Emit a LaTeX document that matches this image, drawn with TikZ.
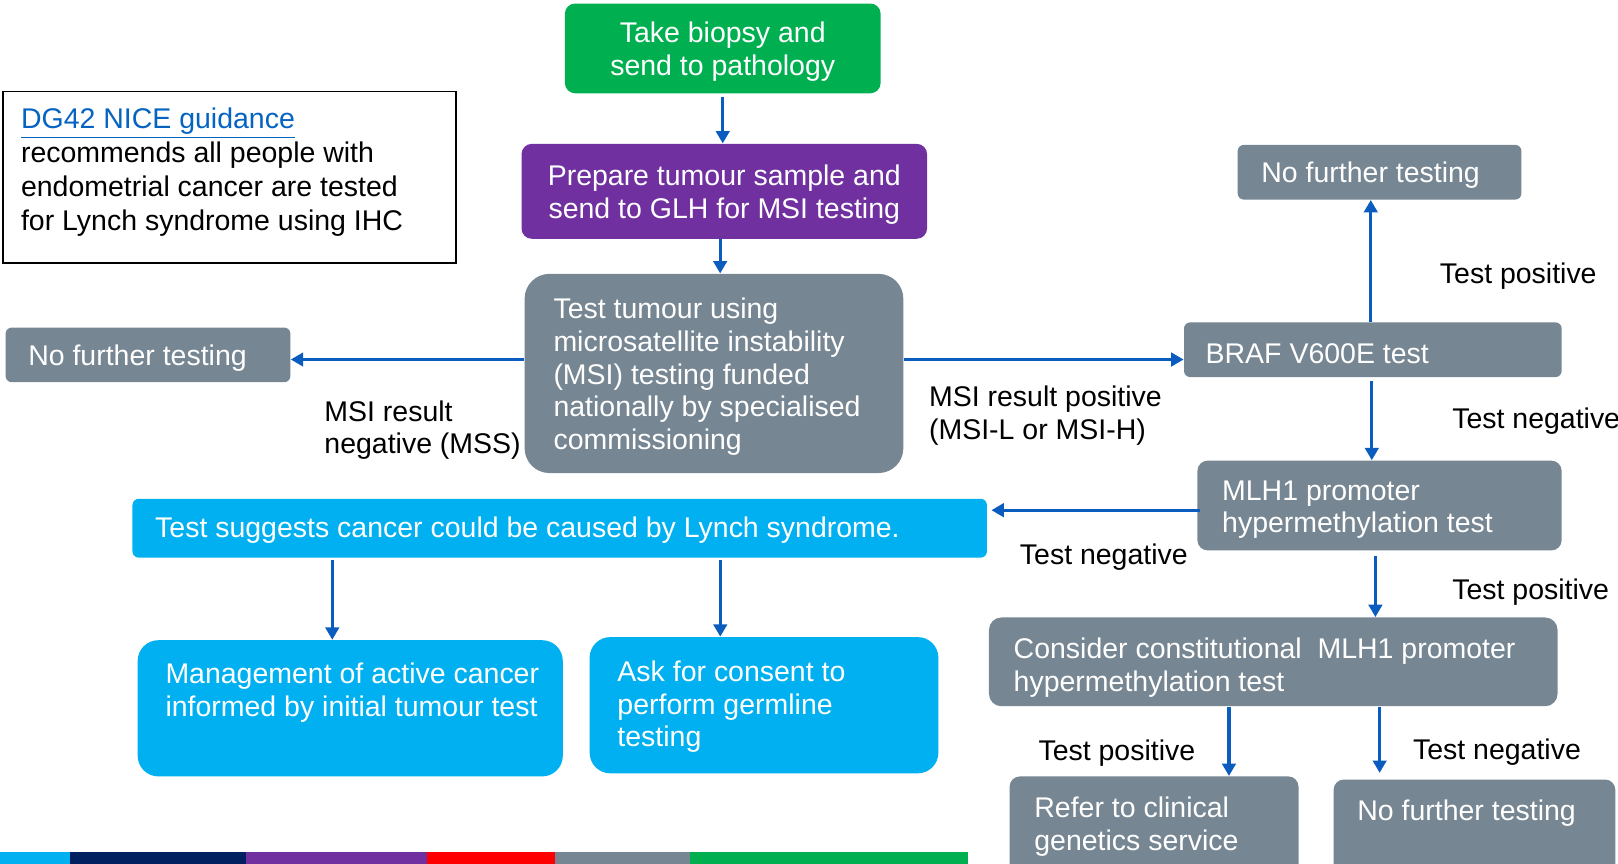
\documentclass[tikz,border=0pt]{standalone}
\usepackage{fontspec}
\setmainfont{Liberation Sans}
\usetikzlibrary{arrows.meta,calc}
\definecolor{cgreen}{HTML}{00B050}
\definecolor{cpurple}{HTML}{7030A0}
\definecolor{cgray}{HTML}{768692}
\definecolor{ccyan}{HTML}{00B0F0}
\definecolor{cnavy}{HTML}{002060}
\definecolor{cred}{HTML}{FF0000}
\definecolor{carrow}{HTML}{0A5CBE}
\definecolor{clink}{HTML}{0563C1}
\begin{document}
\begin{tikzpicture}[x=0.5pt,y=-0.5pt,
  txt/.style={font=\fontsize{13.8pt}{15.8pt}\selectfont, inner sep=0pt, align=left, yshift=-1.5pt},
  wtxt/.style={txt, text=white},
  panel/.style={inner sep=0pt, anchor=north west, draw=none},
  graybox/.style={panel, fill=cgray},
  cyanbox/.style={panel, fill=ccyan},
  arr/.style={draw=carrow, line width=1.5pt, -{Triangle[length=6pt,width=6.5pt]}},
]
\clip (0,0) rectangle (1568,837);
\useasboundingbox (0,0) rectangle (1568,837);

% boxes
\node[panel, fill=cgreen, rounded corners=5pt, minimum width=153pt, minimum height=43.5pt] (green) at (547,3) {};
\node[panel, fill=cpurple, rounded corners=5pt, minimum width=196.5pt, minimum height=46pt] (purple) at (505,139) {};
\node[graybox, rounded corners=12pt, minimum width=183.5pt, minimum height=96.5pt] (main) at (508,265) {};
\node[graybox, rounded corners=3pt, minimum width=138pt, minimum height=26.5pt] (nftL) at (5,317) {};
\node[panel, draw=black, line width=0.8pt, fill=white, minimum width=219.5pt, minimum height=83pt] (note) at (2,88) {};
\node[graybox, rounded corners=3pt, minimum width=137.5pt, minimum height=26.5pt] (nftT) at (1199,140) {};
\node[graybox, rounded corners=3pt, minimum width=183pt, minimum height=26.5pt] (braf) at (1147,312) {};
\node[graybox, rounded corners=5pt, minimum width=176.5pt, minimum height=43.5pt] (mlh) at (1160,446) {};
\node[cyanbox, rounded corners=3pt, minimum width=414pt, minimum height=28.5pt] (lynch) at (128,483) {};
\node[cyanbox, rounded corners=10pt, minimum width=206pt, minimum height=66pt] (mgmt) at (133,620) {};
\node[cyanbox, rounded corners=10pt, minimum width=169pt, minimum height=66pt] (ask) at (571,617) {};
\node[graybox, rounded corners=6pt, minimum width=275.5pt, minimum height=43pt] (consider) at (958,598) {};
\node[graybox, rounded corners=5pt, minimum width=140pt, minimum height=59pt] (refer) at (978,752) {};
\node[graybox, rounded corners=5pt, minimum width=136.5pt, minimum height=57.5pt] (nftB) at (1292,755) {};

% box texts
\node[wtxt, align=center] (green-t) at (green.center) {Take biopsy and\\send to pathology};
\node[wtxt, align=center] (purple-t) at (purple.center) {Prepare tumour sample and\\send to GLH for MSI testing};
\node[wtxt, anchor=west] (main-t) at (536,362) {Test tumour using\\microsatellite instability\\(MSI) testing funded\\nationally by specialised\\commissioning};
\node[wtxt, anchor=west] (nftL-t) at (27,344) {No further testing};
\node[txt, anchor=west, font=\fontsize{13.8pt}{16.4pt}\selectfont] (note-t) at (20,164) {\textcolor{clink}{\underline{DG42 NICE guidance}}\\recommends all people with\\endometrial cancer are tested\\for Lynch syndrome using IHC};
\node[wtxt, anchor=west] (nftT-t) at (1222,167) {No further testing};
\node[wtxt, anchor=west] (braf-t) at (1168,340) {BRAF V600E test};
\node[wtxt, anchor=west] (mlh-t) at (1184,491) {MLH1 promoter\\hypermethylation test};
\node[wtxt, anchor=west] (lynch-t) at (150,511) {Test suggests cancer could be caused by Lynch syndrome.};
\node[wtxt, anchor=west] (mgmt-t) at (160,668) {Management of active cancer\\informed by initial tumour test};
\node[wtxt, anchor=west] (ask-t) at (598,682) {Ask for consent to\\perform germline\\testing};
\node[wtxt, anchor=west] (consider-t) at (982,644) {Consider constitutional~ MLH1 promoter\\hypermethylation test};
\node[wtxt, anchor=west] (refer-t) at (1002,798) {Refer to clinical\\genetics service};
\node[wtxt, anchor=west] (nftB-t) at (1315,785) {No further testing};

% labels
\node[txt, anchor=west] (l-mss) at (314,414) {MSI result\\negative (MSS)};
\node[txt, anchor=west] (l-msi) at (900,400) {MSI result positive\\(MSI-L or MSI-H)};
\node[txt, anchor=west] (l-tp1) at (1395,265) {Test positive};
\node[txt, anchor=west] (l-tn1) at (1407,405) {Test negative};
\node[txt, anchor=west] (l-tn2) at (988,537) {Test negative};
\node[txt, anchor=west] (l-tp2) at (1407,571) {Test positive};
\node[txt, anchor=west] (l-tp3) at (1006,727) {Test positive};
\node[txt, anchor=west] (l-tn3) at (1369,726) {Test negative};

% connectors
\draw[arr] ($(green.south)+(0,3)$) coordinate (a1) -- (a1 |- purple.north);
\draw[arr] ($(purple.south)+(-4,0)$) coordinate (a2) -- (a2 |- main.north);
\draw[arr] ($(main.west)+(0,-13.5)$) coordinate (a3) -- (a3 -| nftL.east);
\draw[arr] ($(main.east)+(0,-13.5)$) coordinate (a4) -- (a4 -| braf.west);
\draw[arr] ($(braf.north)+(-2,0)$) coordinate (a5) -- (a5 |- nftT.south);
\draw[arr] ($(braf.south)+(-1,3)$) coordinate (a6) -- (a6 |- mlh.north);
\draw[arr] ($(mlh.west)+(3,4.5)$) coordinate (a7) -- ($(a7 -| lynch.east)+(4,0)$);
\draw[arr] ($(mlh.south)+(-4,5)$) coordinate (a8) -- (a8 |- consider.north);
\draw[arr] ($(consider.south west)+(233,0)$) coordinate (a9) -- (a9 |- refer.north);
\draw[arr] ($(consider.south west)+(379,0)$) coordinate (a10) -- ($(a10 |- nftB.north)+(0,-6)$);
\draw[arr] ($(lynch.south west)+(194,2)$) coordinate (a11) -- (a11 |- mgmt.north);
\draw[arr] ($(lynch.south west)+(570,2)$) coordinate (a12) -- (a12 |- ask.north);

% bottom colour bar
\fill[ccyan] (0,826) rectangle (68,837);
\fill[cnavy] (68,826) rectangle (238,837);
\fill[cpurple] (238,826) rectangle (414,837);
\fill[cred] (414,826) rectangle (538,837);
\fill[cgray] (538,826) rectangle (669,837);
\fill[cgreen] (669,826) rectangle (938,837);
\end{tikzpicture}
\end{document}
